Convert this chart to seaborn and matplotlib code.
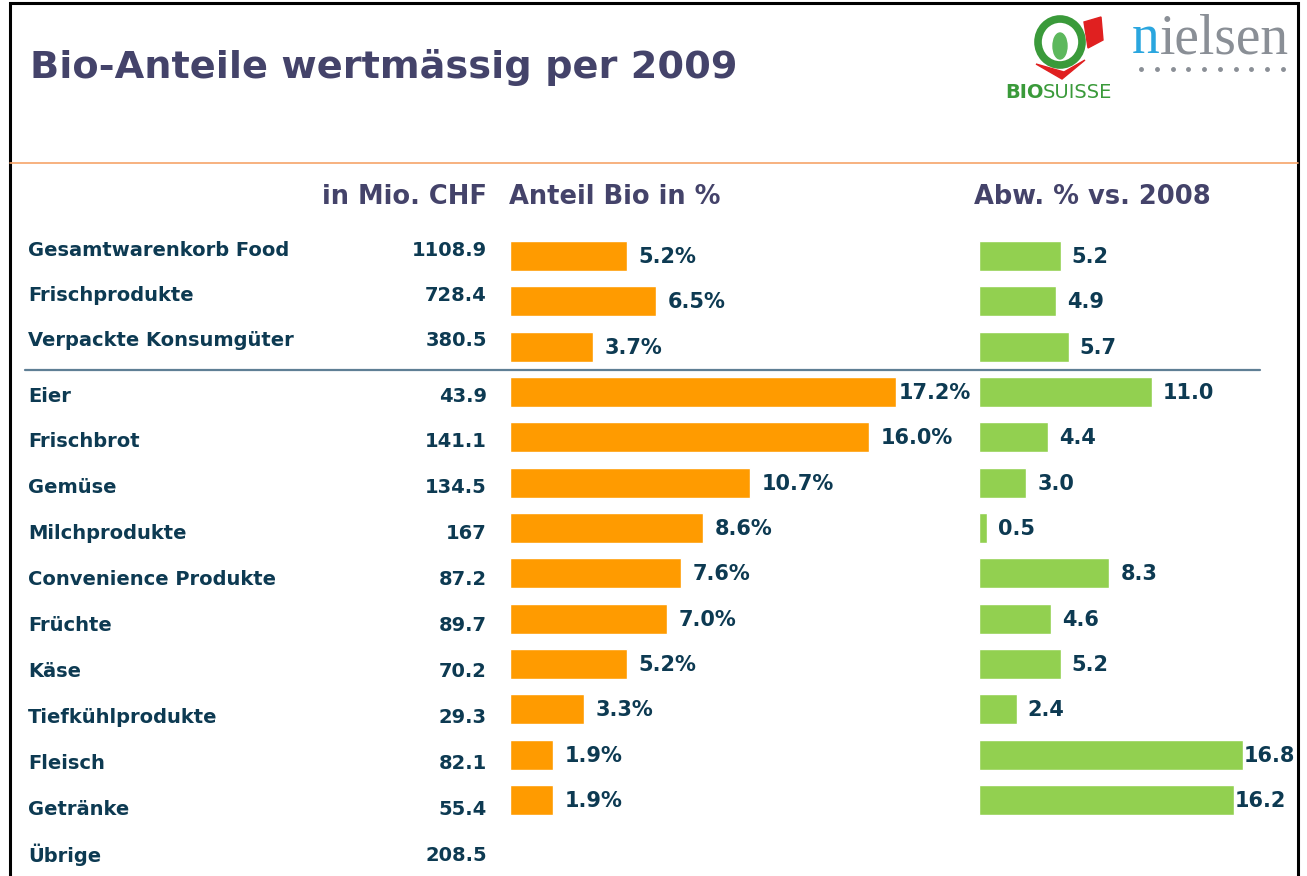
import numpy as np
import pandas as pd
import seaborn as sns
from matplotlib import pyplot as plt
from matplotlib import transforms
from matplotlib.lines import Line2D
from matplotlib.patches import Rectangle, Ellipse, Polygon

# data
categories = ["Gesamtwarenkorb Food", "Frischprodukte", "Verpackte Konsumgüter",
              "Eier", "Frischbrot", "Gemüse", "Milchprodukte", "Convenience Produkte",
              "Früchte", "Käse", "Tiefkühlprodukte", "Fleisch", "Getränke", "Übrige"]
mio_chf = [1108.9, 728.4, 380.5, 43.9, 141.1, 134.5, 167, 87.2, 89.7, 70.2, 29.3, 82.1, 55.4, 208.5]
anteil_bio = [5.2, 6.5, 3.7, 17.2, 16.0, 10.7, 8.6, 7.6, 7.0, 5.2, 3.3, 1.9, 1.9, np.nan]
abw_2008 = [5.2, 4.9, 5.7, 11.0, 4.4, 3.0, 0.5, 8.3, 4.6, 5.2, 2.4, 16.8, 16.2, np.nan]

title = "Bio-Anteile wertmässig per 2009"
col_headers = ["in Mio. CHF", "Anteil Bio in %", "Abw. % vs. 2008"]

ORANGE = "#ff9b00"
GREEN = "#92d050"
NAVY = "#0d3a52"
HEAD = "#44436a"
LOGO_GREEN = "#3a9a3a"

sns.set_style("white")
plt.rcParams['font.family'] = ['DejaVu Sans']

W, H = 1307, 876
fig = plt.figure(figsize=(W / 100, H / 100), dpi=100)
fig.patch.set_facecolor("white")


def fx(px):
    return px / W


def fy(py):
    return 1 - py / H


df = pd.DataFrame({"Kategorie": categories, "Anteil": anteil_bio, "Abw": abw_2008})
df_bars = df.dropna()

# axes geometry: row pitch ~45.3 px, first bar centre at y=256
pitch = 45.33
top = 256 - pitch / 2
bottom = top + pitch * len(categories)
ax_o = fig.add_axes([fx(510), fy(bottom), fx(460), (bottom - top) / H])
ax_g = fig.add_axes([fx(979), fy(bottom), fx(300), (bottom - top) / H])

sns.barplot(data=df_bars, x="Anteil", y="Kategorie", order=categories, color=ORANGE,
            saturation=1, width=0.66, errorbar=None, ax=ax_o)
sns.barplot(data=df_bars, x="Abw", y="Kategorie", order=categories, color=GREEN,
            saturation=1, width=0.66, errorbar=None, ax=ax_g)

ax_o.set_xlim(0, 460 / 22.44)
ax_g.set_xlim(0, 300 / 15.72)
for ax in (ax_o, ax_g):
    ax.set_ylim(len(categories) - 0.5, -0.5)
    ax.axis("off")

# value labels next to the bars
for i, v in enumerate(anteil_bio):
    if np.isnan(v):
        continue
    pad = 3 if v > 17 else 12
    ax_o.annotate(f"{v:.1f}%", xy=(v, i), xytext=(pad, -1), textcoords="offset pixels",
                  ha="left", va="center", fontsize=15, fontweight="bold", color=NAVY)
for i, v in enumerate(abw_2008):
    if np.isnan(v):
        continue
    pad = 1 if v > 15 else 11
    ax_g.annotate(f"{v:.1f}", xy=(v, i), xytext=(pad, -1), textcoords="offset pixels",
                  ha="left", va="center", fontsize=15, fontweight="bold", color=NAVY)

# row labels and CHF values, on the same rows as the bars
row_tr = transforms.blended_transform_factory(fig.transFigure, ax_o.transData)
for i, (cat, chf) in enumerate(zip(categories, mio_chf)):
    off = -0.13 if i < 3 else 0.09 + (i - 3) * 0.013
    fig.text(fx(28), i + off, cat, transform=row_tr, ha="left", va="center",
             fontsize=14, fontweight="bold", color=NAVY)
    fig.text(fx(487), i + off, f"{chf:g}", transform=row_tr, ha="right", va="center",
             fontsize=14, fontweight="bold", color=NAVY)

# column headers
fig.text(fx(487), fy(197), col_headers[0], ha="right", va="center",
         fontsize=18.5, fontweight="bold", color=HEAD)
fig.text(fx(509), fy(197), col_headers[1], ha="left", va="center",
         fontsize=18.5, fontweight="bold", color=HEAD)
fig.text(fx(974), fy(197), col_headers[2], ha="left", va="center",
         fontsize=18.5, fontweight="bold", color=HEAD)

# title
fig.text(fx(30), fy(68), title, ha="left", va="center",
         fontsize=27.5, fontweight="bold", color=HEAD)

# lines and frame
fig.add_artist(Line2D([fx(10), fx(1298)], [fy(163), fy(163)], color="#f6a46a", lw=1.2))
fig.add_artist(Line2D([fx(25), fx(1260)], [fy(370), fy(370)], color="#5f7f95", lw=1.6))
fig.add_artist(Rectangle((fx(10), fy(H + 5)), fx(1288), (H + 2) / H, fill=False,
                         edgecolor="black", lw=2.2, transform=fig.transFigure))

# Bio Suisse logo (rough)
fig.add_artist(Ellipse((fx(1060), fy(42)), 44 / W, 46 / H, transform=fig.transFigure,
                       fill=False, edgecolor=LOGO_GREEN, lw=5.5))
fig.add_artist(Ellipse((fx(1060), fy(46)), 14 / W, 26 / H, transform=fig.transFigure,
                       color="#5cb85c"))
fig.add_artist(Polygon([[fx(1084), fy(22)], [fx(1101), fy(17)], [fx(1103), fy(40)],
                        [fx(1088), fy(48)]], closed=True, color="#e02020",
                       transform=fig.transFigure))
fig.add_artist(Polygon([[fx(1036), fy(64)], [fx(1062), fy(79)], [fx(1085), fy(60)],
                        [fx(1064), fy(72)]], closed=True, color="#e02020",
                       transform=fig.transFigure))
fig.text(fx(1005), fy(92), "BIO", ha="left", va="center", fontsize=14,
         fontweight="bold", color=LOGO_GREEN)
fig.text(fx(1043), fy(92), "SUISSE", ha="left", va="center", fontsize=14,
         color=LOGO_GREEN)

# nielsen logo
fig.text(fx(1132), fy(53), "n", ha="left", va="baseline", fontsize=40,
         family="Liberation Serif", color="#2aa6df")
fig.text(fx(1160), fy(53), "ielsen", ha="left", va="baseline", fontsize=40,
         family="Liberation Serif", color="#8a8f96")
dots_x = np.linspace(fx(1141), fx(1283), 10)
fig.add_artist(Line2D(dots_x, [fy(69)] * 10, marker="o", markersize=2.5, linestyle="none",
                      color="#8a8f96", transform=fig.transFigure))

fig.savefig("out.png", dpi=100)
